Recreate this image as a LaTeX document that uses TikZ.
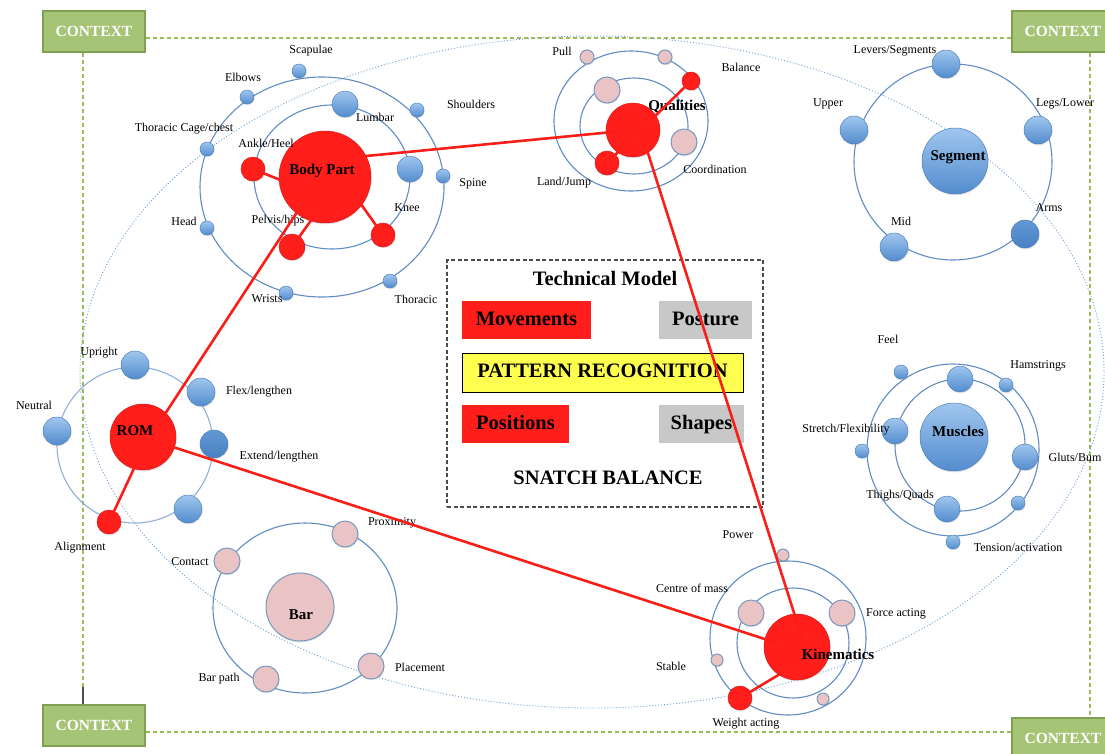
\documentclass[tikz,border=0pt]{standalone}
\usepackage{fontspec}
\setmainfont{Liberation Serif}
\usetikzlibrary{shadows,calc}

\definecolor{ringc}{RGB}{95,140,195}
\definecolor{btop}{RGB}{160,198,238}
\definecolor{bbot}{RGB}{82,140,206}
\definecolor{bdarktop}{RGB}{98,152,212}
\definecolor{bdarkbot}{RGB}{72,128,194}
\definecolor{bedge}{RGB}{78,128,188}
\definecolor{myred}{RGB}{255,30,25}
\definecolor{redge}{RGB}{215,25,25}
\definecolor{mypink}{RGB}{234,196,196}
\definecolor{pedge}{RGB}{120,152,192}
\definecolor{ctxfill}{RGB}{166,196,117}
\definecolor{ctxedge}{RGB}{126,160,80}
\definecolor{ctxline}{RGB}{155,187,89}
\definecolor{halo}{RGB}{110,160,215}
\definecolor{tmgray}{RGB}{200,200,200}
\definecolor{tmyellow}{RGB}{255,255,80}
\definecolor{linkred}{RGB}{250,30,25}

\begin{document}
\begin{tikzpicture}[x=1pt,y=-1pt,
  cshadow/.style={drop shadow={opacity=0.22,shadow xshift=0.6pt,shadow yshift=-1.3pt}},
  ringline/.style={draw=ringc,line width=1.1pt},
  bsat/.style={circle,inner sep=0pt,minimum size=#1,draw=bedge,line width=0.5pt,
    top color=btop,bottom color=bbot,cshadow},
  dsat/.style={circle,inner sep=0pt,minimum size=#1,draw=bedge,line width=0.5pt,
    top color=bdarktop,bottom color=bdarkbot,cshadow},
  rsat/.style={circle,inner sep=0pt,minimum size=#1,draw=redge,line width=0.5pt,
    fill=myred,cshadow},
  psat/.style={circle,inner sep=0pt,minimum size=#1,draw=pedge,line width=1pt,
    fill=mypink,cshadow},
  lbl/.style={inner sep=0pt,font=\fontsize{12}{14}\selectfont},
  hub/.style={inner sep=0pt,font=\bfseries\fontsize{15}{17}\selectfont},
  link/.style={draw=linkred,line width=2.6pt},
  ctx/.style={draw=ctxedge,line width=2pt,fill=ctxfill,minimum width=102,minimum height=41,
    inner sep=0pt,text=white,font=\bfseries\fontsize{15.5}{17}\selectfont,cshadow},
  frame/.style={draw=ctxline,line width=1.5pt,dash pattern=on 4pt off 3pt},
  tmbox/.style={inner sep=0pt,font=\bfseries\fontsize{20.5}{23}\selectfont,
    text height=14pt,text depth=4pt},
]
\useasboundingbox (0,0) rectangle (1105,753);

% large dotted halo round the whole model
\draw[draw=halo,line width=0.9pt,dash pattern=on 1pt off 2pt]
  (592,372) ellipse [x radius=512,y radius=336];

% context frame
\node[ctx] (ctl) at (94,31.5) {CONTEXT};
\node[ctx] (ctr) at (1063,31.5) {CONTEXT};
\node[ctx] (cbl) at (94,725.5) {CONTEXT};
\node[ctx] (cbr) at (1063,738.5) {CONTEXT};
\draw[frame] (ctl.east |- 0,38) -- (ctr.west |- 0,38);
\draw[frame] (cbl.east |- 0,732) -- (cbr.west |- 0,732);
\draw[frame] (83,0 |- ctl.south) -- (83,687);
\draw[draw=black!70,line width=1.3pt] (83,687) -- (83,0 |- cbl.north);
\draw[frame] (1090,0 |- ctr.south) -- (1090,0 |- cbr.north);

% orbit rings
\draw[ringline] (332,177) ellipse [x radius=78,y radius=72];
\draw[ringline] (322,187) ellipse [x radius=122,y radius=110];
\draw[ringline] (634,126) ellipse [x radius=54,y radius=48];
\draw[ringline] (631,121) ellipse [x radius=77,y radius=70];
\draw[ringline] (953,162) ellipse [x radius=99,y radius=98];
\draw[ringline] (960,445) ellipse [x radius=65,y radius=66];
\draw[ringline] (953,450) ellipse [x radius=86,y radius=86];
\draw[ringline,draw=ringc!70] (135,445) ellipse [x radius=78,y radius=78];
\draw[ringline] (305,608) ellipse [x radius=92,y radius=85];
\draw[ringline] (793,643) ellipse [x radius=56,y radius=55];
\draw[ringline] (788,638) ellipse [x radius=78,y radius=77];

% technical model panel
\node[draw=black!70,line width=1.2pt,dash pattern=on 4pt off 2.5pt,
  minimum width=316,minimum height=247,inner sep=0pt] (tm) at (605,383.5) {};
\node[inner sep=0pt,font=\bfseries\fontsize{20.5}{23}\selectfont] (tmtitle) at (605,278) {Technical Model};
\node[tmbox,fill=myred,minimum width=129,minimum height=38] (mov) at (526.5,320) {Movements};
\node[tmbox,fill=tmgray,minimum width=93,minimum height=38] (post) at (705.5,320) {Posture};
\node[tmbox,fill=tmyellow,draw=black,line width=0.8pt,minimum width=281,minimum height=39] (patt) at (602.5,372.5) {PATTERN RECOGNITION};
\node[tmbox,fill=myred,minimum width=107,minimum height=38] (posn) at (515.5,424) {Positions};
\node[tmbox,fill=tmgray,minimum width=85,minimum height=38] (shap) at (701.5,424) {Shapes};
\node[inner sep=0pt,font=\bfseries\fontsize{20.5}{23}\selectfont] (snatch) at (608,478) {SNATCH BALANCE};

% Body Part cluster
\node[rsat=92] (bp) at (325,177) {};
\node[bsat=26] (lumbar) at (345,104) {};
\node[bsat=26] (bpright) at (410,169) {};
\node[rsat=24] (ankle) at (253,169) {};
\node[rsat=26] (pelvis) at (292,247) {};
\node[rsat=24] (knee) at (383,235) {};
\node[bsat=14] (scap) at (299,71) {};
\node[bsat=14] (elb) at (247,97) {};
\node[bsat=14] (shou) at (417,110) {};
\node[bsat=14] (thcage) at (207,149) {};
\node[bsat=14] (spine) at (443,176) {};
\node[bsat=14] (head) at (207,228) {};
\node[bsat=14] (wrist) at (286,293) {};
\node[bsat=14] (thor) at (390,281) {};

% Qualities cluster
\node[rsat=54] (qual) at (633,130) {};
\node[psat=26] (qpinka) at (607,90) {};
\node[psat=26] (qpinkb) at (684,142) {};
\node[rsat=24] (land) at (607,163) {};
\node[rsat=18] (bal) at (691,81) {};
\node[psat=14] (pulla) at (587,57) {};
\node[psat=14] (pullb) at (665,57) {};

% Segment cluster
\node[bsat=66] (seg) at (955,161) {};
\node[bsat=28] (lever) at (946,64) {};
\node[bsat=28] (legs) at (1038,130) {};
\node[dsat=28] (arms) at (1025,234) {};
\node[bsat=28] (mid) at (894,247) {};
\node[bsat=28] (upper) at (854,130) {};

% Muscles cluster
\node[bsat=68] (mus) at (954,437) {};
\node[bsat=26] (mtop) at (960,379) {};
\node[bsat=26] (mleft) at (895,431) {};
\node[bsat=26] (gluts) at (1025,457) {};
\node[bsat=26] (thigh) at (947,509) {};
\node[bsat=14] (feel) at (901,372) {};
\node[bsat=14] (ham) at (1006,385) {};
\node[bsat=14] (stretch) at (862,451) {};
\node[bsat=14] (mlow) at (1018,503) {};
\node[bsat=14] (tens) at (953,542) {};

% ROM cluster
\node[rsat=66] (rom) at (143,437) {};
\node[bsat=28] (upright) at (135,365) {};
\node[bsat=28] (flex) at (201,392) {};
\node[dsat=28] (extend) at (214,444) {};
\node[bsat=28] (romlow) at (188,509) {};
\node[bsat=28] (neutral) at (57,431) {};
\node[rsat=24] (align) at (109,522) {};

% Bar cluster
\node[psat=68] (bar) at (300,607) {};
\node[psat=26] (contact) at (227,561) {};
\node[psat=26] (prox) at (345,534) {};
\node[psat=26] (place) at (371,666) {};
\node[psat=26] (barpath) at (266,679) {};

% Kinematics cluster
\node[rsat=66] (kin) at (797,647) {};
\node[psat=26] (com) at (751,613) {};
\node[psat=26] (force) at (842,613) {};
\node[psat=12] (power) at (783,555) {};
\node[psat=12] (stable) at (717,660) {};
\node[psat=12] (klow) at (823,699) {};
\node[rsat=24] (weight) at (740,698) {};

% hub titles
\node[hub] (tbp) at (322,171) {Body Part};
\node[hub] (tqual) at (677,107) {Qualities};
\node[hub] (tseg) at (958,157) {Segment};
\node[hub] (tmus) at (958,431) {Muscles};
\node[hub] (trom) at (135,431) {ROM};
\node[hub] (tbar) at (301,615) {Bar};
\node[hub] (tkin) at (838,654) {Kinematics};

% satellite labels
\node[lbl] (lscap) at (311,51) {Scapulae};
\node[lbl] (lelb) at (243,77) {Elbows};
\node[lbl] (lshou) at (471,104) {Shoulders};
\node[lbl] (llumb) at (375,117) {Lumbar};
\node[lbl] (lthc) at (184,129) {Thoracic Cage/chest};
\node[lbl] (lank) at (266,143) {Ankle/Heel};
\node[lbl] (lspine) at (473,184) {Spine};
\node[lbl] (lhead) at (184,221) {Head};
\node[lbl] (lpel) at (278,221) {Pelvis/hips};
\node[lbl] (lknee) at (407,208) {Knee};
\node[lbl] (lwri) at (267,299) {Wrists};
\node[lbl] (lthor) at (416,299) {Thoracic};

\node[lbl] (lpull) at (562,51) {Pull};
\node[lbl] (lbal) at (741,67) {Balance};
\node[lbl] (lland) at (564,183) {Land/Jump};
\node[lbl] (lcoord) at (715,169) {Coordination};

\node[lbl] (llev) at (895,51) {Levers/Segments};
\node[lbl] (lupp) at (828,104) {Upper};
\node[lbl] (llegs) at (1065,104) {Legs/Lower};
\node[lbl] (larms) at (1049,208) {Arms};
\node[lbl] (lmid) at (901,221) {Mid};

\node[lbl] (lfeel) at (888,339) {Feel};
\node[lbl] (lham) at (1038,366) {Hamstrings};
\node[lbl] (lstr) at (846,430) {Stretch/Flexibility};
\node[lbl] (lglu) at (1075,457) {Gluts/Bum};
\node[lbl] (lthi) at (900,496) {Thighs/Quads};
\node[lbl] (lten) at (1018,548) {Tension/activation};

\node[lbl] (lupr) at (99,353) {Upright};
\node[lbl] (lflex) at (259,392) {Flex/lengthen};
\node[lbl] (lneu) at (34,405) {Neutral};
\node[lbl] (lext) at (279,457) {Extend/lengthen};
\node[lbl] (lali) at (80,548) {Alignment};

\node[lbl] (lcon) at (190,562) {Contact};
\node[lbl] (lprox) at (392,523) {Proximity};
\node[lbl] (lplace) at (420,667) {Placement};
\node[lbl] (lbpath) at (219,679) {Bar path};

\node[lbl] (lpow) at (738,535) {Power};
\node[lbl] (lcom) at (692,588) {Centre of mass};
\node[lbl] (lforce) at (896,614) {Force acting};
\node[lbl] (lstab) at (671,666) {Stable};
\node[lbl] (lweight) at (746,724) {Weight acting};

% red links between the hubs and their highlighted points
\draw[link] (bp.27) -- (qual.center);
\draw[link] ($(bp)+(-20,23)$) -- ($(rom)+(20,-20)$);
\draw[link] ($(bp)+(-32,8)$) -- (ankle.center);
\draw[link] ($(bp)+(-8,35)$) -- (pelvis.center);
\draw[link] ($(bp)+(33,23)$) -- (knee.center);
\draw[link] (land.center) -- (bal.center);
\draw[link] ($(qual)+(14,20)$) -- ($(kin)+(5,-9)$);
\draw[link] ($(rom)+(30,10)$) -- ($(kin)+(-20,-4)$);
\draw[link] ($(rom)+(-6,25)$) -- (align.center);
\draw[link] ($(kin)+(-7,21)$) -- (weight.center);
\end{tikzpicture}
\end{document}
